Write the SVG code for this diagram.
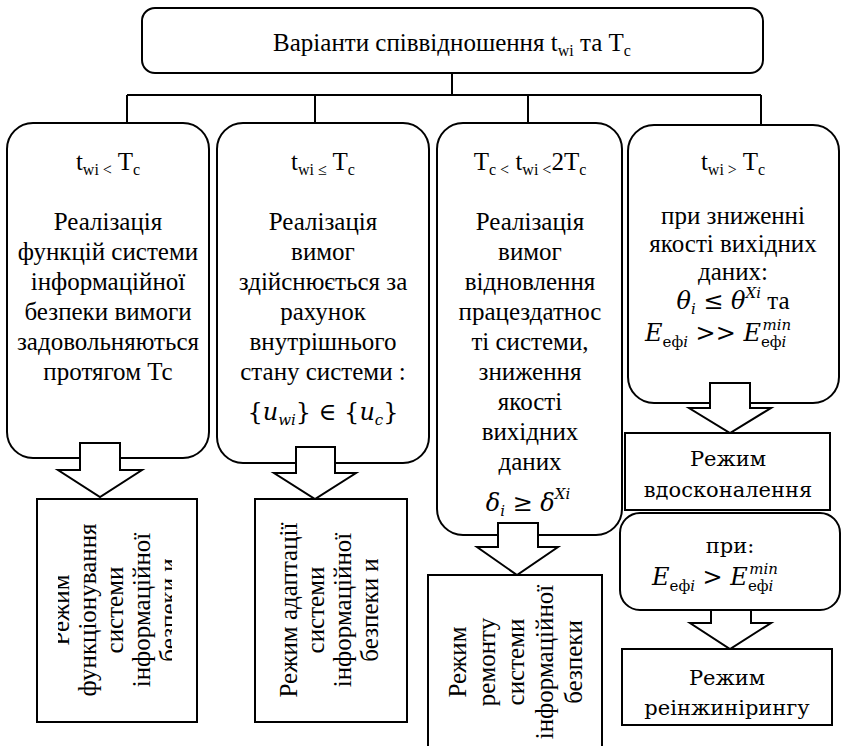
<svg xmlns="http://www.w3.org/2000/svg" width="843" height="746" viewBox="0 0 843 746">
<style>
.bx{fill:#fff;stroke:#000;stroke-width:2}
.ar{fill:#fff;stroke:#000;stroke-width:2;stroke-linejoin:miter}
.cn{fill:none;stroke:#000;stroke-width:2}
.t{font-family:"Liberation Serif","Times New Roman",serif;font-size:25px;text-anchor:middle;fill:#000}
.c{font-family:"DejaVu Serif","Liberation Serif",serif;font-size:21px;text-anchor:middle;fill:#000}
.m{font-family:"DejaVu Serif","Liberation Serif",serif;font-size:24px;font-style:italic;fill:#000}
.sb{font-size:16px}
.ms{font-size:15px}
</style>
<defs>
<clipPath id="clip1"><rect x="58" y="500" width="114" height="220"/></clipPath>
</defs>

<g id="top">
<rect class="bx" x="142" y="8" width="621" height="65" rx="13"/>
<text class="t" x="452" y="51" font-size="26">Варіанти співвідношення t<tspan class="sb" dy="5">wi</tspan><tspan dy="-5"> та T</tspan><tspan class="sb" dy="5">c</tspan></text>
</g>

<g id="connectors">
<path class="cn" d="M452,73 V95 M127,95 H761 M127,95 V123 M315,95 V123 M528,95 V123 M761,95 V125"/>
</g>

<g id="col1">
<rect class="bx" x="7" y="123" width="202" height="335" rx="26"/>
<text class="t" x="108" y="170">t<tspan class="sb" dy="5">wi &lt;</tspan><tspan dy="-5"> T</tspan><tspan class="sb" dy="5">c</tspan></text>
<text class="t" x="108" y="230">Реалізація</text>
<text class="t" x="108" y="260">функцій системи</text>
<text class="t" x="108" y="290">інформаційної</text>
<text class="t" x="108" y="320">безпеки вимоги</text>
<text class="t" x="108" y="350">задовольняються</text>
<text class="t" x="108" y="380">протягом Тс</text>
</g>

<g id="col2">
<rect class="bx" x="217" y="123" width="212" height="340" rx="26"/>
<text class="t" x="323" y="170">t<tspan class="sb" dy="5">wi ≤</tspan><tspan dy="-5"> T</tspan><tspan class="sb" dy="5">c</tspan></text>
<text class="t" x="323" y="230">Реалізація</text>
<text class="t" x="323" y="260">вимог</text>
<text class="t" x="323" y="290">здійснюється за</text>
<text class="t" x="323" y="320">рахунок</text>
<text class="t" x="323" y="350">внутрішнього</text>
<text class="t" x="323" y="380">стану системи :</text>
<text class="m" x="323" y="420" text-anchor="middle"><tspan font-style="normal">{</tspan>u<tspan class="ms" dy="5">wi</tspan><tspan font-style="normal" dy="-5">} ∈ {</tspan>u<tspan class="ms" dy="5">c</tspan><tspan font-style="normal" dy="-5">}</tspan></text>
</g>

<g id="col3">
<rect class="bx" x="437" y="123" width="185" height="412" rx="26"/>
<text class="t" x="530" y="170">T<tspan class="sb" dy="5">c &lt;</tspan><tspan dy="-5"> t</tspan><tspan class="sb" dy="5">wi &lt;</tspan><tspan dy="-5">2T</tspan><tspan class="sb" dy="5">c</tspan></text>
<text class="t" x="530" y="230">Реалізація</text>
<text class="t" x="530" y="260">вимог</text>
<text class="t" x="530" y="290">відновлення</text>
<text class="t" x="530" y="320">працездатнос</text>
<text class="t" x="530" y="350">ті системи,</text>
<text class="t" x="530" y="380">зниження</text>
<text class="t" x="530" y="410">якості</text>
<text class="t" x="530" y="440">вихідних</text>
<text class="t" x="530" y="470">даних</text>
<text class="m" x="528" y="511" text-anchor="middle" font-size="27">δ<tspan class="ms" dy="5">i</tspan><tspan font-style="normal" dy="-5">  ≥ </tspan>δ<tspan class="ms" dy="-12">Xi</tspan></text>
</g>

<g id="col4">
<rect class="bx" x="628" y="125" width="211" height="278" rx="26"/>
<text class="t" x="733" y="170">t<tspan class="sb" dy="5">wi &gt;</tspan><tspan dy="-5"> T</tspan><tspan class="sb" dy="5">c</tspan></text>
<text class="t" x="733" y="224">при зниженні</text>
<text class="t" x="733" y="252">якості вихідних</text>
<text class="t" x="733" y="280">даних:</text>
<text class="m" x="733" y="309" text-anchor="middle">θ<tspan class="ms" dy="5">i</tspan><tspan font-style="normal" dy="-5">  ≤ </tspan>θ<tspan class="ms" dy="-11">Xi</tspan><tspan font-style="normal" font-family="Liberation Serif" font-size="25" dy="11"> та</tspan></text>
<text class="m" x="645" y="341">E<tspan class="ms" dy="6" font-style="normal">еф</tspan><tspan class="ms" dy="0">i</tspan><tspan font-style="normal" dy="-6"> &gt;&gt; </tspan>E<tspan class="ms" dy="6" font-style="normal">еф</tspan><tspan class="ms">i</tspan><tspan class="ms" dx="-24" dy="-17">min</tspan></text>
</g>

<g id="arrows">
<polygon class="ar" points="80,443 120,443 120,470 142,470 100,497 58,470 80,470"/>
<polygon class="ar" points="296,447 335,447 335,473 356,473 315,499 274,473 296,473"/>
<polygon class="ar" points="498,523 538,523 538,547 558,547 517,575 477,547 498,547"/>
<polygon class="ar" points="710,383 750,383 750,408 771,408 730,433 689,408 710,408"/>
<polygon class="ar" points="711,597 751,597 751,623 771,623 730,649 690,623 711,623"/>
</g>

<g id="mode1">
<rect class="bx" x="37" y="499" width="160" height="223"/>
<g clip-path="url(#clip1)">
<text class="t" transform="translate(69,610) rotate(-90)">Режим</text>
<text class="t" transform="translate(96,610) rotate(-90)">функціонування</text>
<text class="t" transform="translate(123,610) rotate(-90)">системи</text>
<text class="t" transform="translate(150,610) rotate(-90)">інформаційної</text>
<text class="t" transform="translate(177,610) rotate(-90)">безпеки и</text>
</g>
</g>

<g id="mode2">
<rect class="bx" x="255" y="499" width="152" height="223"/>
<text class="t" transform="translate(297,610) rotate(-90)">Режим адаптації</text>
<text class="t" transform="translate(324,610) rotate(-90)">системи</text>
<text class="t" transform="translate(351,610) rotate(-90)">інформаційної</text>
<text class="t" transform="translate(378,610) rotate(-90)">безпеки и</text>
</g>

<g id="mode3">
<rect class="bx" x="428" y="575" width="174" height="190"/>
<text class="t" transform="translate(466,662) rotate(-90)">Режим</text>
<text class="t" transform="translate(495,662) rotate(-90)">ремонту</text>
<text class="t" transform="translate(524,662) rotate(-90)">системи</text>
<text class="t" transform="translate(553,662) rotate(-90)">інформаційної</text>
<text class="t" transform="translate(582,662) rotate(-90)">безпеки</text>
</g>

<g id="mode4">
<rect class="bx" x="625" y="433" width="205" height="77"/>
<text class="c" x="728" y="466">Режим</text>
<text class="c" x="728" y="497">вдосконалення</text>
</g>

<g id="cond">
<rect class="bx" x="620" y="513" width="220" height="97" rx="20"/>
<text class="c" x="730" y="553">при:</text>
<text class="m" x="652" y="585">E<tspan class="ms" dy="6" font-style="normal">еф</tspan><tspan class="ms">i</tspan><tspan font-style="normal" dy="-6"> &gt; </tspan>E<tspan class="ms" dy="6" font-style="normal">еф</tspan><tspan class="ms">i</tspan><tspan class="ms" dx="-24" dy="-17">min</tspan></text>
</g>

<g id="mode5">
<rect class="bx" x="622" y="649" width="210" height="76"/>
<text class="c" x="727" y="685" font-size="23">Режим</text>
<text class="c" x="727" y="715" font-size="23">реінжинірингу</text>
</g>
</svg>
